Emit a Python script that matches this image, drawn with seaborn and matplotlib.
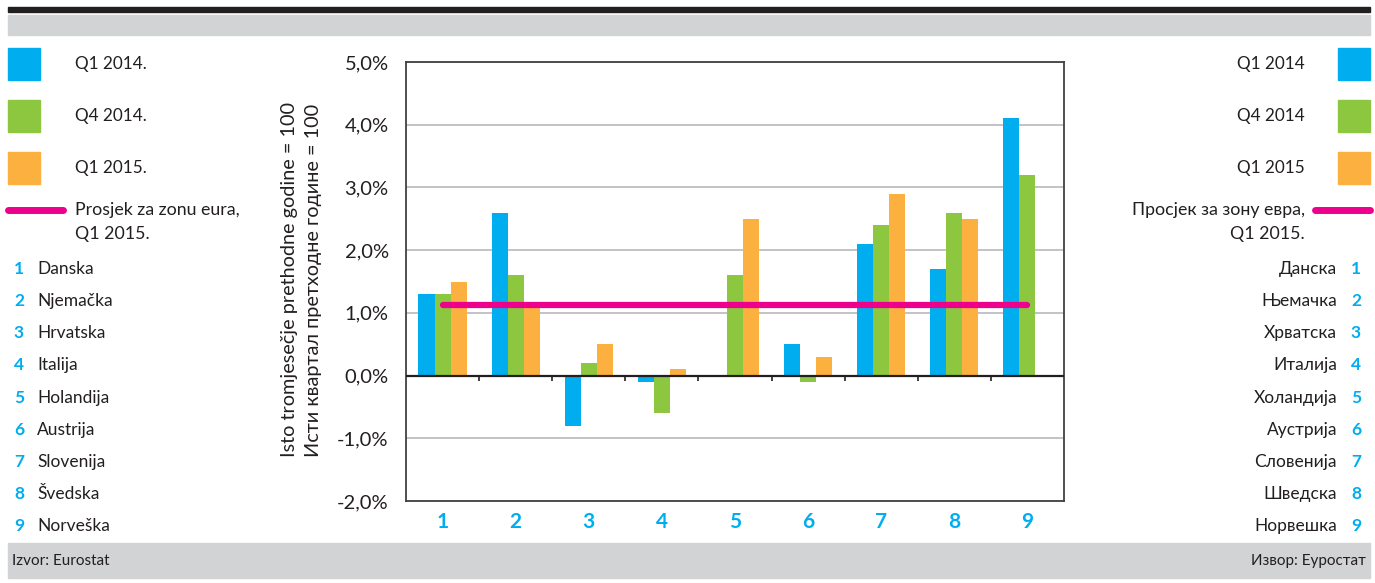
import numpy as np
import pandas as pd
import matplotlib
matplotlib.use("Agg")
import matplotlib.pyplot as plt
from matplotlib.patches import Rectangle
from matplotlib.lines import Line2D
import seaborn as sns

# data
countries = ["1", "2", "3", "4", "5", "6", "7", "8", "9"]
names_lat = ["Danska", "Njemačka", "Hrvatska", "Italija", "Holandija",
             "Austrija", "Slovenija", "Švedska", "Norveška"]
names_cyr = ["Данска", "Њемачка", "Хрватска", "Италија", "Холандија",
             "Аустрија", "Словенија", "Шведска", "Норвешка"]
q1_2014 = [1.3, 2.6, -0.8, -0.1, 0.0, 0.5, 2.1, 1.7, 4.1]
q4_2014 = [1.3, 1.6, 0.2, -0.6, 1.6, -0.1, 2.4, 2.6, 3.2]
q1_2015 = [1.5, 1.1, 0.5, 0.1, 2.5, 0.3, 2.9, 2.5, np.nan]
euro_avg = 1.12
series_lat = ["Q1 2014.", "Q4 2014.", "Q1 2015."]
series_cyr = ["Q1 2014", "Q4 2014", "Q1 2015"]
yticks = [-2, -1, 0, 1, 2, 3, 4, 5]

colors = ["#00aeef", "#8dc63f", "#fbb040"]
pink = "#ec008c"
txt = "#231f20"
band = "#d1d3d4"

df = pd.DataFrame({
    "country": countries * 3,
    "series": sum([[s] * len(countries) for s in series_lat], []),
    "value": q1_2014 + q4_2014 + q1_2015,
})

sns.set_style("white")
plt.rcParams["font.family"] = ["Lato", "DejaVu Sans"]

fig = plt.figure(figsize=(13.75, 5.83), dpi=100)
W, H = 1375, 583

def fx(x):
    return x / W

def fy(y):
    return 1 - y / H

ax = fig.add_axes([fx(406), fy(501), fx(1064) - fx(406), fy(62) - fy(501)])
sns.barplot(data=df, x="country", y="value", hue="series", order=countries,
            hue_order=series_lat, palette=colors, width=0.66, linewidth=0,
            saturation=1, legend=False, ax=ax)
sns.lineplot(x=np.arange(len(countries)), y=[euro_avg] * len(countries),
             color=pink, linewidth=4.5, solid_capstyle="round", ax=ax, zorder=5)

ax.set_ylim(-2, 5)
ax.set_xlim(-0.5, len(countries) - 0.5)
ax.set_yticks(yticks)
ax.set_yticklabels([f"{v:.1f}%".replace(".", ",") for v in yticks], fontsize=14.5, color=txt)
ax.yaxis.grid(True, color="#bcbec0", linewidth=1.3)
ax.set_axisbelow(True)
ax.axhline(0, color="#231f20", linewidth=1.6, zorder=4)
ax.vlines(np.arange(len(countries) - 1) + 0.5, -0.09, 0, color="#231f20", linewidth=1.2, zorder=4)
ax.tick_params(axis="y", length=4.5, color="#808285", pad=8)
ax.tick_params(axis="x", length=0, pad=8)
for lab in ax.get_xticklabels():
    lab.set_color(colors[0])
    lab.set_fontweight("bold")
    lab.set_fontsize(15)
ax.set_xlabel("")
ax.set_ylabel("")
for sp in ax.spines.values():
    sp.set_color("#414042")
    sp.set_linewidth(1.3)

fig.text(fx(289), fy(280), "Isto tromjesečje prethodne godine = 100", rotation=90,
         ha="center", va="center", fontsize=14.3, color=txt)
fig.text(fx(314), fy(280), "Исти квартал претходне године = 100", rotation=90,
         ha="center", va="center", fontsize=14.3, color=txt)

# top and bottom bands
fig.add_artist(Rectangle((fx(8), fy(12)), fx(1370) - fx(8), fy(7) - fy(12), color="#231f20"))
fig.add_artist(Rectangle((fx(8), fy(35)), fx(1370) - fx(8), fy(15) - fy(35), color=band))
fig.add_artist(Rectangle((fx(8), fy(578)), fx(1370) - fx(8), fy(543) - fy(578), color=band))
fig.text(fx(12), fy(561), "Izvor: Eurostat", fontsize=11, va="center", color=txt)
fig.text(fx(1366), fy(561), "Извор: Еуростат", fontsize=11, va="center", ha="right", color=txt)

# legends on both sides
box_y = [64, 116, 168]
for c, lab, y in zip(colors, series_lat, box_y):
    fig.add_artist(Rectangle((fx(8), fy(y + 16)), fx(32), fy(0) - fy(32), color=c))
    fig.text(fx(75), fy(y), lab, fontsize=12.3, va="center", color=txt)
    fig.add_artist(Rectangle((fx(1338), fy(y + 16)), fx(32), fy(0) - fy(32), color=c))
for lab, y in zip(series_cyr, box_y):
    fig.text(fx(1305), fy(y), lab, fontsize=12.3, va="center", ha="right", color=txt)

fig.add_artist(Line2D([fx(8), fx(63)], [fy(210), fy(210)], color=pink, linewidth=5))
fig.text(fx(75), fy(210), "Prosjek za zonu eura,", fontsize=12.8, va="center", color=txt)
fig.text(fx(75), fy(234), "Q1 2015.", fontsize=12.8, va="center", color=txt)
fig.add_artist(Line2D([fx(1315), fx(1370)], [fy(210), fy(210)], color=pink, linewidth=5))
fig.text(fx(1305), fy(210), "Просјек за зону евра,", fontsize=12.8, va="center", ha="right", color=txt)
fig.text(fx(1305), fy(234), "Q1 2015.", fontsize=12.8, va="center", ha="right", color=txt)

row_y = [269, 301, 333, 365, 398, 430, 462, 494, 526]
for num, nl, nc, y in zip(countries, names_lat, names_cyr, row_y):
    fig.text(fx(19), fy(y), num, fontsize=12.5, va="center", ha="center",
             color=colors[0], fontweight="bold")
    fig.text(fx(37), fy(y), nl, fontsize=12.5, va="center", color=txt)
    fig.text(fx(1356), fy(y), num, fontsize=12.5, va="center", ha="center",
             color=colors[0], fontweight="bold")
    fig.text(fx(1337), fy(y), nc, fontsize=12.5, va="center", ha="right", color=txt)

fig.savefig("out.png", dpi=100)
